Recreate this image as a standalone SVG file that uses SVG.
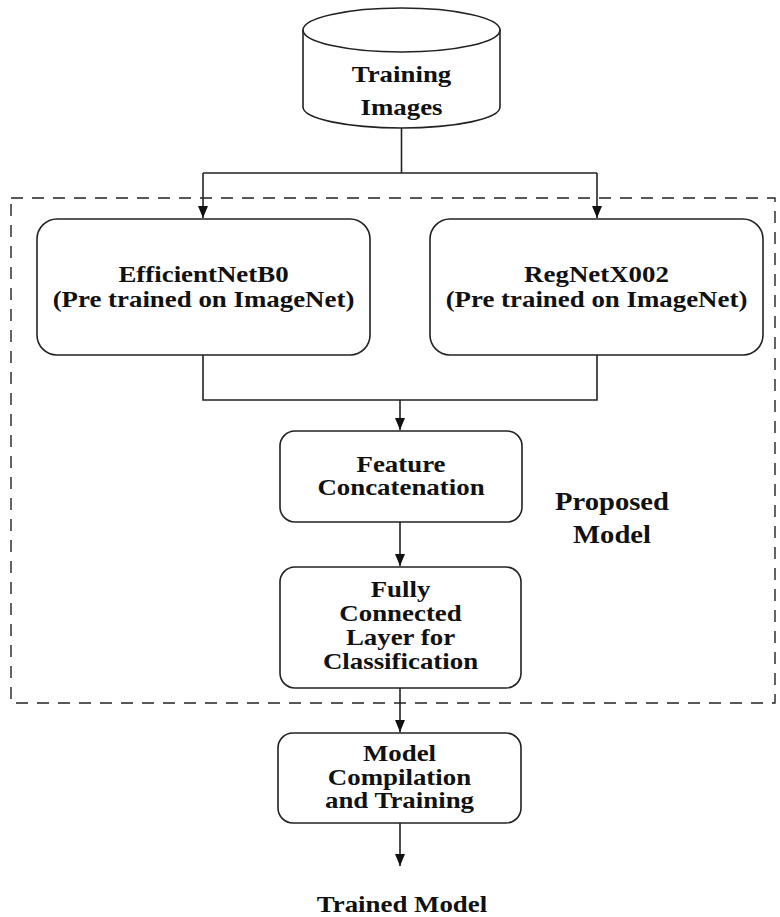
<svg xmlns="http://www.w3.org/2000/svg" width="780" height="917" viewBox="0 0 780 917">
<style>
.box{fill:#fff;stroke:#222;stroke-width:1.6}
.t{font-family:"Liberation Serif","Times New Roman",serif;font-weight:bold;font-size:24px;fill:#111;text-anchor:middle}
.big{font-size:26px}
.c{fill:none;stroke:#222;stroke-width:1.6}
</style>
<defs>
<marker id="ad" viewBox="0 0 12 10" refX="12" refY="5" markerWidth="12" markerHeight="10" markerUnits="userSpaceOnUse" orient="auto">
<path d="M0,0 L12,5 L0,10 Z" fill="#111"/>
</marker>
</defs>
<rect id="proposed-frame" x="11" y="198" width="764" height="505" fill="none" stroke="#222" stroke-width="1.4" stroke-dasharray="12,9"/>
<g id="connectors">
<path class="c" d="M401.5,128 V173 M203,173 H597" />
<path class="c" d="M203,173 V218" marker-end="url(#ad)"/>
<path class="c" d="M597,173 V218" marker-end="url(#ad)"/>
<path class="c" d="M203,355 V400 H597 V355"/>
<path class="c" d="M400,400 V430" marker-end="url(#ad)"/>
<path class="c" d="M400,522 V566" marker-end="url(#ad)"/>
<path class="c" d="M400,688 V732" marker-end="url(#ad)"/>
<path class="c" d="M400,823 V866" marker-end="url(#ad)"/>
</g>
<g id="training-images">
<path class="box" d="M303,30 V107 A98.5,21 0 0 0 500,107 V30 A98.5,22 0 0 0 303,30 Z"/>
<path class="c" d="M303,30 A98.5,22 0 0 0 500,30"/>
<g transform="translate(401.5,0) scale(1.12,1)">
<text class="t" x="0" y="82">Training</text>
<text class="t" x="0" y="115">Images</text>
</g>
</g>
<g id="efficientnet">
<rect class="box" x="37" y="219" width="333" height="136" rx="20"/>
<g transform="translate(203.5,0) scale(1.12,1)">
<text class="t" x="0" y="282">EfficientNetB0</text>
<text class="t" x="0" y="307">(Pre trained on ImageNet)</text>
</g>
</g>
<g id="regnet">
<rect class="box" x="430" y="219" width="333" height="136" rx="20"/>
<g transform="translate(596.5,0) scale(1.12,1)">
<text class="t" x="0" y="282">RegNetX002</text>
<text class="t" x="0" y="307">(Pre trained on ImageNet)</text>
</g>
</g>
<g id="feature-concat">
<rect class="box" x="280" y="431" width="242" height="91" rx="15"/>
<g transform="translate(401,0) scale(1.12,1)">
<text class="t" x="0" y="472">Feature</text>
<text class="t" x="0" y="495">Concatenation</text>
</g>
</g>
<g id="fully-connected">
<rect class="box" x="280" y="567" width="241" height="121" rx="15"/>
<g transform="translate(400.5,0) scale(1.12,1)">
<text class="t" x="0" y="597">Fully</text>
<text class="t" x="0" y="621">Connected</text>
<text class="t" x="0" y="645">Layer for</text>
<text class="t" x="0" y="669">Classification</text>
</g>
</g>
<g id="proposed-label">
<g transform="translate(612,0) scale(1.1,1)">
<text class="t big" x="0" y="510">Proposed</text>
<text class="t big" x="0" y="543">Model</text>
</g>
</g>
<g id="model-compilation">
<rect class="box" x="278" y="733" width="243" height="90" rx="15"/>
<g transform="translate(399.5,0) scale(1.12,1)">
<text class="t" x="0" y="761">Model</text>
<text class="t" x="0" y="785">Compilation</text>
<text class="t" x="0" y="808">and Training</text>
</g>
</g>
<g id="trained-model">
<g transform="translate(402,0) scale(1.12,1)">
<text class="t" x="0" y="912">Trained Model</text>
</g>
</g>
</svg>
